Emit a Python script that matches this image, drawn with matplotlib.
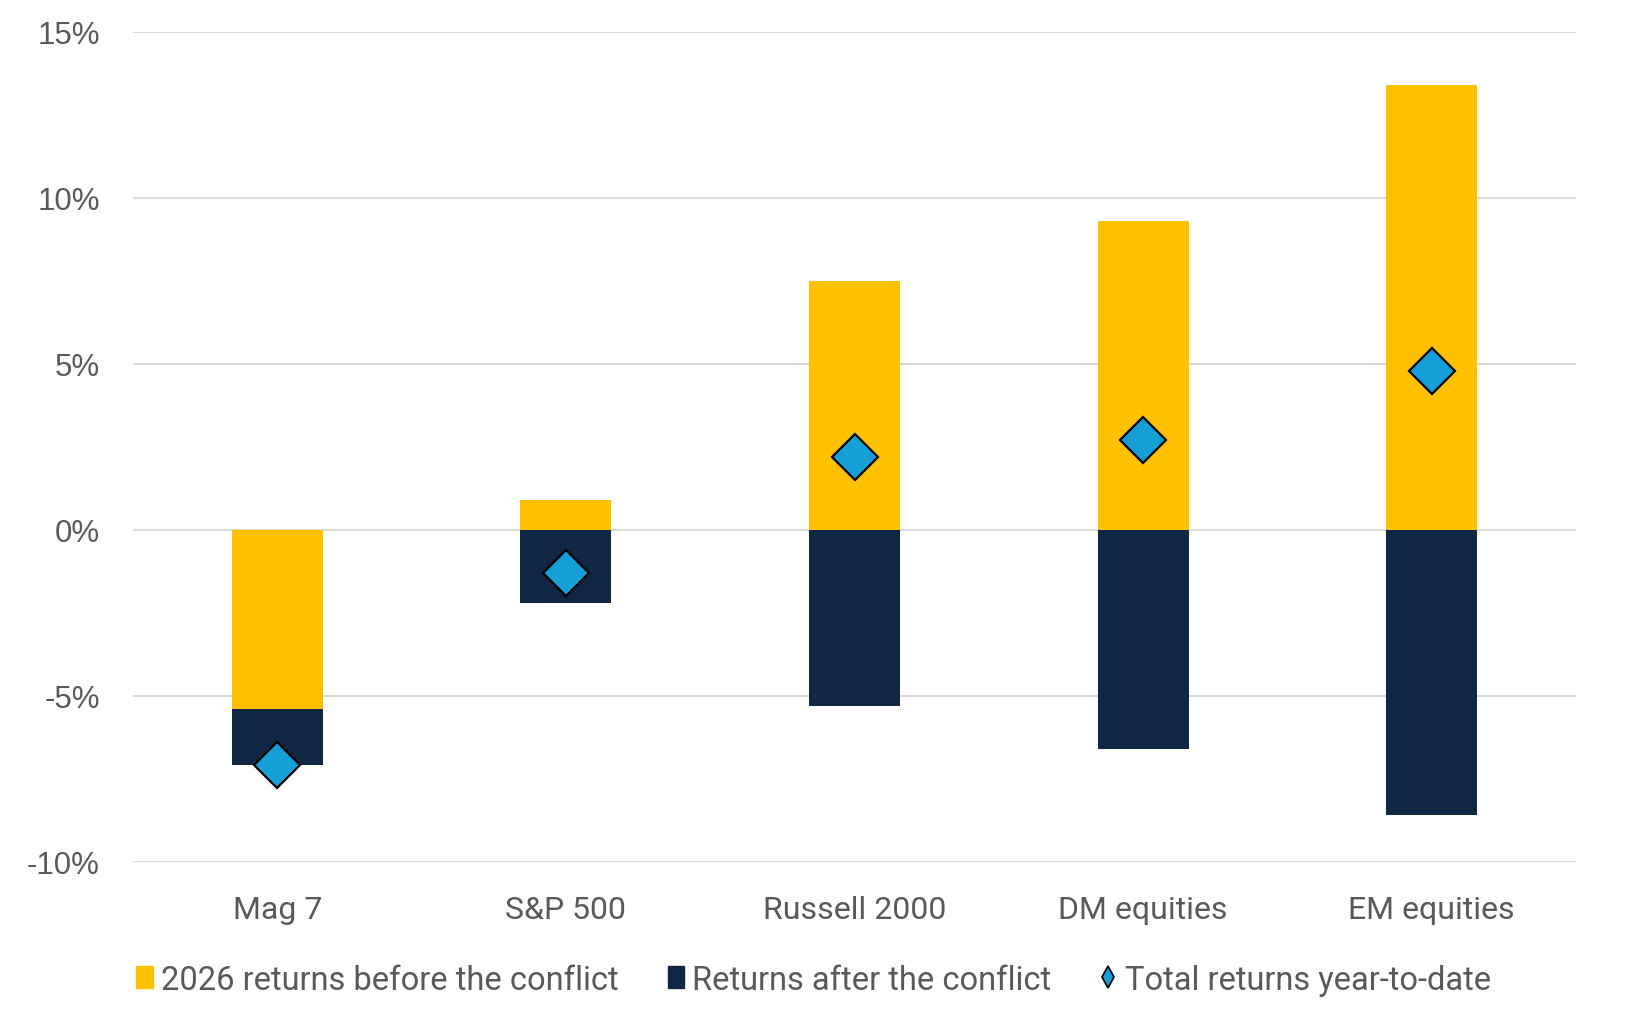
import matplotlib.pyplot as plt
import numpy as np
from matplotlib.lines import Line2D
from matplotlib.patches import Patch

categories = ["Mag 7", "S&P 500", "Russell 2000", "DM equities", "EM equities"]
before = np.array([-5.4, 0.9, 7.5, 9.3, 13.4])
after = np.array([-1.7, -2.2, -5.3, -6.6, -8.6])
total = before + after

yellow = "#FFC000"
navy = "#0F2742"
blue = "#14A0D6"
grey = "#595959"

fig = plt.figure(figsize=(16.34, 10.12), dpi=100)
ax = fig.add_axes([0.0814, 0.1475, 0.8831, 0.8199])

x = np.arange(len(categories))
w = 0.315

#stack positive and negative parts separately
ax.bar(x, before, w, color=yellow, zorder=2)
bottom_after = np.where((after < 0) & (before < 0), before, 0)
bottom_after = np.where((after > 0) & (before > 0), before, bottom_after)
ax.bar(x, after, w, bottom=bottom_after, color=navy, zorder=2)
ax.plot(x, total, linestyle="none", marker="D", ms=23, mfc=blue, mec="black", mew=1.6, zorder=3)

ax.set_xlim(-0.5, 4.5)
ax.set_ylim(-10, 15)
ax.set_yticks(np.arange(-10, 16, 5))
ax.set_yticklabels([f"{v}%" for v in range(-10, 16, 5)], family="Liberation Sans")
ax.yaxis.grid(True, color="#D9D9D9", linewidth=1.5, zorder=0)
ax.set_axisbelow(True)
for s in ax.spines.values():
    s.set_visible(False)
ax.tick_params(axis="both", length=0, colors=grey)
ax.tick_params(axis="y", labelsize=22.5, pad=24)
ax.set_xticks(x)
ax.set_xticklabels(categories, fontsize=23, family="Roboto")
ax.tick_params(axis="x", pad=24)

handles = [
    Patch(color=yellow, label="2026 returns before the conflict"),
    Patch(color=navy, label="Returns after the conflict"),
    Line2D([], [], linestyle="none", marker="d", ms=11, mfc=blue, mec="black", mew=1.2,
           label="Total returns year-to-date"),
]
leg = fig.legend(handles=handles, loc="center left", bbox_to_anchor=(0.0835, 0.031), ncol=3,
                 frameon=False, handlelength=0.5, handleheight=0.65, borderpad=0, borderaxespad=0,
                 handletextpad=0.25, columnspacing=1.5, prop={"family": "Roboto", "size": 23.5})
for t in leg.get_texts():
    t.set_color(grey)

fig.savefig("out.png", dpi=100)
